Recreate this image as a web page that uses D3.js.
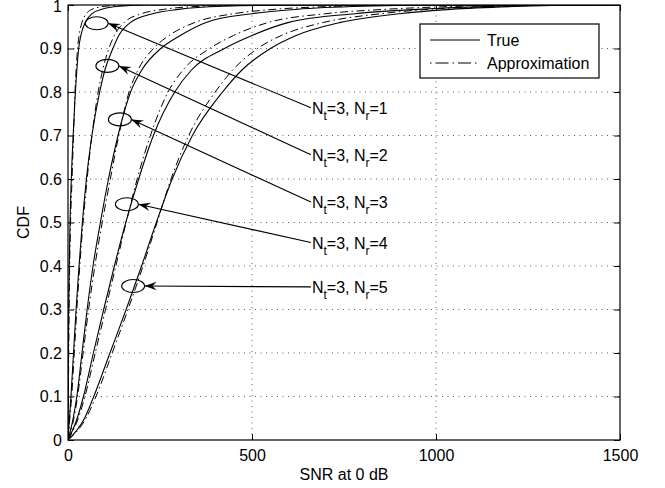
<!DOCTYPE html>
<html>
<head>
<meta charset="utf-8">
<script src="https://cdn.jsdelivr.net/npm/d3@7"></script>
<style>
body { margin: 0; background: #fff; }
text { font-family: "Liberation Sans", Arial, Helvetica, sans-serif; fill: #000; }
</style>
</head>
<body>
<div id="chart"></div>
<script>
const cdfLevels = [0, 0.05, 0.1, 0.2, 0.3, 0.4, 0.5, 0.6, 0.7, 0.8, 0.85, 0.9, 0.93, 0.96, 0.98, 0.99, 0.997, 1];

// true CDF curves (SNR at each level), Nt=3, Nr=1..5
const trueNr1 = [0, 0.3, 0.5, 1, 2, 3.5, 5.5, 9, 14, 20, 24, 29, 35, 47, 65, 92, 140, 220];
const trueNr2 = [0, 4, 8, 15, 22, 30, 39, 50, 65, 86, 100, 122, 138, 170, 230, 300, 420, 650];
const trueNr3 = [0, 14, 24, 38, 52, 68, 88, 110, 136, 170, 200, 252, 305, 375, 500, 620, 800, 1050];
const trueNr4 = [0, 25, 42, 69, 97, 126, 157, 192, 232, 290, 335, 425, 500, 600, 780, 950, 1150, 1350];
const trueNr5 = [0, 45, 70, 114, 158, 200, 240, 283, 338, 420, 472, 550, 620, 740, 900, 1040, 1230, 1450];

// approximation curves
const approxNr1 = [0, 0.5, 1, 2, 3, 4.5, 7, 11, 15, 19, 22, 26, 30, 38, 50, 65, 100, 160];
const approxNr2 = [0, 5, 10, 17, 24, 32, 41, 52, 65, 82, 94, 111, 126, 153, 200, 260, 360, 560];
const approxNr3 = [0, 16, 26, 41, 56, 73, 93, 115, 138, 166, 190, 232, 275, 345, 450, 560, 730, 950];
const approxNr4 = [0, 28, 46, 74, 102, 130, 158, 188, 224, 272, 312, 385, 450, 545, 700, 860, 1060, 1250];
const approxNr5 = [0, 49, 76, 120, 163, 204, 242, 280, 328, 400, 447, 515, 580, 695, 850, 980, 1180, 1400];

const snrMax = 1500;
const xTicks = [0, 500, 1000, 1500];
const yTicks = [0, 0.1, 0.2, 0.3, 0.4, 0.5, 0.6, 0.7, 0.8, 0.9, 1];

// annotations: ellipse centre and label anchor, in data units
const labelNr = [1, 2, 3, 4, 5];
const ellipseSnr = [78, 107, 141, 160, 177];
const ellipseCdf = [0.958, 0.860, 0.737, 0.542, 0.354];
const labelSnr = 660;
const labelCdf = [0.764, 0.656, 0.547, 0.454, 0.352];

const legendNames = ["True", "Approximation"];

const W = 665, H = 488;
const svg = d3.select("#chart").append("svg")
    .attr("width", W)
    .attr("height", H);

const x = d3.scaleLinear().domain([0, snrMax]).range([68, 620]);
const y = d3.scaleLinear().domain([0, 1]).range([440, 5]);

const dashDot = "8,3.5,1.5,3.5";

// grid
const grid = svg.append("g").attr("stroke", "#333").attr("stroke-width", 0.8).attr("stroke-dasharray", "1,4.5");
grid.selectAll(".gx").data(xTicks.slice(1, -1)).enter().append("line")
    .attr("x1", d => x(d)).attr("x2", d => x(d))
    .attr("y1", y(0)).attr("y2", y(1));
grid.selectAll(".gy").data(yTicks.slice(1, -1)).enter().append("line")
    .attr("x1", x(0)).attr("x2", x(snrMax))
    .attr("y1", d => y(d)).attr("y2", d => y(d));

svg.append("clipPath").attr("id", "clip")
  .append("rect").attr("x", x(0)).attr("y", y(1)).attr("width", x(snrMax) - x(0)).attr("height", y(0) - y(1));

const line = d3.line()
    .x(d => x(d[0]))
    .y(d => y(d[1]))
    .curve(d3.curveMonotoneX);

let toPoints = function(snr) {
    let pts = cdfLevels.map((c, i) => [snr[i], c]);
    pts.push([snrMax, 1]);
    return pts;
};

const trueSeries = [trueNr1, trueNr2, trueNr3, trueNr4, trueNr5];
const approxSeries = [approxNr1, approxNr2, approxNr3, approxNr4, approxNr5];

const plot = svg.append("g").attr("clip-path", "url(#clip)");

plot.selectAll(".approx").data(approxSeries).enter().append("path")
    .attr("fill", "none")
    .attr("stroke", "#000")
    .attr("stroke-width", 1)
    .attr("stroke-dasharray", dashDot)
    .attr("d", d => line(toPoints(d)));

plot.selectAll(".true").data(trueSeries).enter().append("path")
    .attr("fill", "none")
    .attr("stroke", "#000")
    .attr("stroke-width", 1.1)
    .attr("d", d => line(toPoints(d)));

// axes, ticks inward on all four sides
const fontSize = "16px";
let styleAxis = function(g) {
    g.select(".domain").remove();
    g.selectAll(".tick line").attr("stroke", "#000");
    g.selectAll("text").style("font-size", fontSize).attr("fill", "#000");
};

svg.append("g")
    .attr("transform", `translate(0, ${y(0)})`)
    .call(d3.axisBottom(x).tickValues(xTicks).tickSizeInner(-6).tickSizeOuter(0).tickPadding(10)
        .tickFormat(d3.format("d")))
    .call(styleAxis);
svg.append("g")
    .attr("transform", `translate(0, ${y(1)})`)
    .call(d3.axisTop(x).tickValues(xTicks).tickSizeInner(-6).tickSizeOuter(0).tickFormat(""))
    .call(styleAxis);
svg.append("g")
    .attr("transform", `translate(${x(0)}, 0)`)
    .call(d3.axisLeft(y).tickValues(yTicks).tickSizeInner(-6).tickSizeOuter(0).tickPadding(6)
        .tickFormat(d => d === 0 || d === 1 ? d3.format("d")(d) : d3.format(".1f")(d)))
    .call(styleAxis)
    .selectAll(".tick text")
    .attr("dy", d => d === 1 ? "0.42em" : "0.32em");
svg.append("g")
    .attr("transform", `translate(${x(snrMax)}, 0)`)
    .call(d3.axisRight(y).tickValues(yTicks).tickSizeInner(-6).tickSizeOuter(0).tickFormat(""))
    .call(styleAxis);

svg.append("rect")
    .attr("x", x(0)).attr("y", y(1))
    .attr("width", x(snrMax) - x(0)).attr("height", y(0) - y(1))
    .attr("fill", "none").attr("stroke", "#000").attr("stroke-width", 1.2);

svg.append("text")
    .attr("x", (x(0) + x(snrMax)) / 2)
    .attr("y", 480)
    .attr("text-anchor", "middle")
    .style("font-size", fontSize)
    .text("SNR at 0 dB");

svg.append("text")
    .attr("transform", `translate(29, ${(y(0) + y(1)) / 2}) rotate(-90)`)
    .attr("text-anchor", "middle")
    .style("font-size", fontSize)
    .text("CDF");

// legend
const legend = svg.append("g").attr("transform", "translate(420, 24)");
legend.append("rect")
    .attr("width", 179).attr("height", 54)
    .attr("fill", "#fff").attr("stroke", "#000").attr("stroke-width", 1.2);
legendNames.forEach(function(name, i) {
    legend.append("line")
        .attr("x1", 10).attr("x2", 60)
        .attr("y1", 16 + i * 23).attr("y2", 16 + i * 23)
        .attr("stroke", "#000").attr("stroke-width", 1)
        .attr("stroke-dasharray", i === 0 ? null : "1.5,4,13,4");
    legend.append("text")
        .attr("x", 67).attr("y", 21.5 + i * 23)
        .style("font-size", fontSize)
        .text(name);
});

// annotations: ellipse + arrow + label
const rx = 11.5, ry = 6.5;
const headLen = 12, headW = 8.5;
const notes = svg.append("g");
labelNr.forEach(function(nr, i) {
    const cx = x(ellipseSnr[i]), cy = y(ellipseCdf[i]);
    const sx = x(labelSnr), sy = y(labelCdf[i]);
    const tx = cx + rx, ty = cy;
    const ang = Math.atan2(ty - sy, tx - sx) * 180 / Math.PI;

    notes.append("ellipse")
        .attr("cx", cx).attr("cy", cy)
        .attr("rx", rx).attr("ry", ry)
        .attr("fill", "none").attr("stroke", "#000").attr("stroke-width", 1.1);

    notes.append("line")
        .attr("x1", sx).attr("y1", sy)
        .attr("x2", tx).attr("y2", ty)
        .attr("stroke", "#000").attr("stroke-width", 1.1);

    notes.append("path")
        .attr("transform", `translate(${tx}, ${ty}) rotate(${ang})`)
        .attr("d", `M0,0 L${-headLen},${-headW / 2} L${-headLen * 0.65},0 L${-headLen},${headW / 2} Z`)
        .attr("fill", "#000");

    const t = notes.append("text")
        .attr("x", sx + 1)
        .attr("y", sy + 6)
        .style("font-size", fontSize);
    t.append("tspan").text("N");
    t.append("tspan").attr("dy", 6).style("font-size", "12px").text("t");
    t.append("tspan").attr("dy", -6).text("=3, N");
    t.append("tspan").attr("dy", 6).style("font-size", "12px").text("r");
    t.append("tspan").attr("dy", -6).text("=" + nr);
});
</script>
</body>
</html>
